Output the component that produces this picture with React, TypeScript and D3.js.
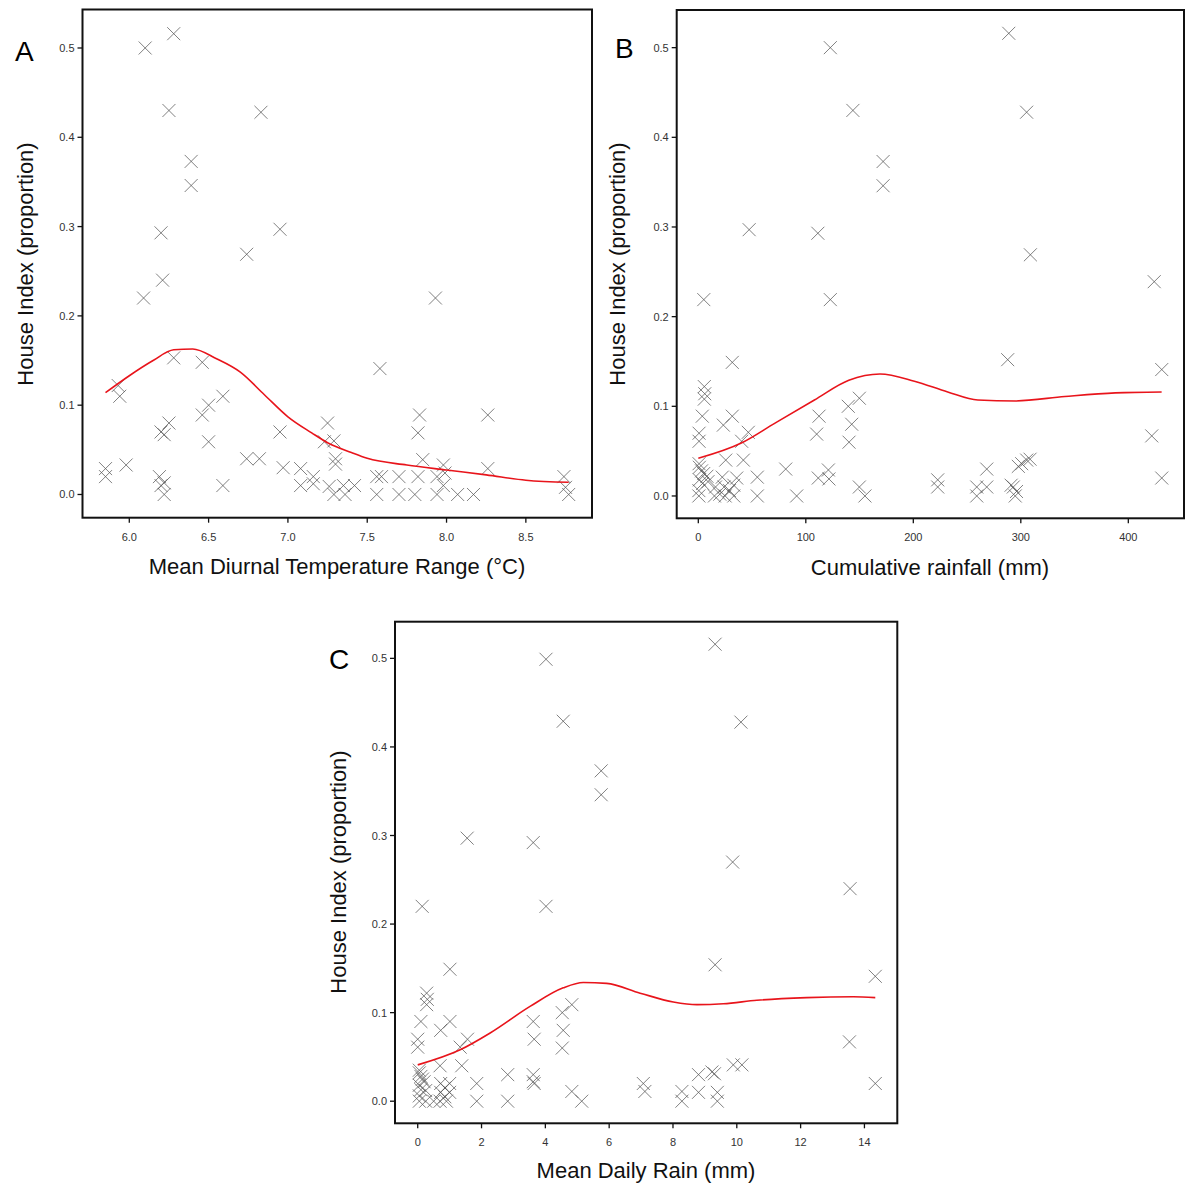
import React from "react";
import * as d3 from "d3";

const FONT = "'Liberation Sans', Arial, Helvetica, sans-serif";

const yTicks = [0, 0.1, 0.2, 0.3, 0.4, 0.5];
const dtrTicks = [6.0, 6.5, 7.0, 7.5, 8.0, 8.5];
const cumRainTicks = [0, 100, 200, 300, 400];
const dailyRainTicks = [0, 2, 4, 6, 8, 10, 12, 14];

const yLabel = "House Index (proportion)";
const xLabelA = "Mean Diurnal Temperature Range (°C)";
const xLabelB = "Cumulative rainfall (mm)";
const xLabelC = "Mean Daily Rain (mm)";

// Panel A: [mean diurnal temperature range, house index]
const pointsA: [number, number][] = [
  [6.10, 0.500], [6.28, 0.516], [6.25, 0.430], [6.83, 0.428], [6.39, 0.373], [6.39, 0.346],
  [6.20, 0.293], [6.95, 0.297], [6.74, 0.269], [6.21, 0.240], [6.09, 0.220], [7.93, 0.220],
  [7.58, 0.141], [6.28, 0.153], [6.46, 0.148], [5.93, 0.122], [5.94, 0.110], [6.59, 0.110],
  [6.50, 0.100], [6.46, 0.089], [6.25, 0.080], [6.20, 0.070], [6.22, 0.067], [6.50, 0.059],
  [6.95, 0.070], [7.25, 0.080], [7.23, 0.059], [7.29, 0.060], [7.83, 0.089], [8.26, 0.089],
  [7.82, 0.069], [6.74, 0.040], [6.82, 0.040], [7.85, 0.039], [7.30, 0.040], [7.30, 0.034],
  [7.98, 0.033], [5.85, 0.029], [5.85, 0.020], [5.98, 0.033], [6.97, 0.030], [7.08, 0.029],
  [8.26, 0.029], [6.19, 0.020], [7.16, 0.020], [7.56, 0.020], [7.59, 0.020], [7.70, 0.020],
  [7.82, 0.020], [7.94, 0.020], [7.99, 0.024], [8.74, 0.020], [6.20, 0.010], [6.22, 0.013],
  [6.59, 0.010], [7.08, 0.010], [7.16, 0.012], [7.26, 0.009], [7.35, 0.010], [7.42, 0.010],
  [7.98, 0.010], [8.75, 0.008], [6.22, 0.000], [7.29, 0.000], [7.36, 0.000], [7.56, 0.000],
  [7.70, 0.000], [7.80, 0.000], [7.94, 0.000], [8.07, 0.000], [8.17, 0.000], [8.77, 0.000],
];

// Panel B: [cumulative rainfall, house index]
const pointsB: [number, number][] = [
  [288.8, 0.516], [122.8, 0.500], [143.8, 0.430], [305.4, 0.428], [171.9, 0.373], [171.9, 0.346],
  [47.3, 0.297], [111.2, 0.293], [308.9, 0.269], [424.1, 0.239], [5.1, 0.219], [122.8, 0.219],
  [287.8, 0.152], [431.1, 0.141], [421.8, 0.067], [31.6, 0.149], [5.6, 0.122], [6.0, 0.114],
  [5.6, 0.108], [3.7, 0.089], [31.6, 0.089], [23.3, 0.079], [46.5, 0.071], [40.3, 0.061],
  [0.7, 0.070], [0.7, 0.061], [112.3, 0.089], [110.1, 0.069], [139.5, 0.100], [149.8, 0.109],
  [142.7, 0.080], [140.2, 0.060], [25.5, 0.040], [41.9, 0.040], [0.7, 0.036], [1.0, 0.032],
  [3.0, 0.028], [5.0, 0.025], [8.0, 0.022], [1.0, 0.018], [4.0, 0.014], [9.0, 0.016],
  [0.5, 0.006], [0.5, 0.000], [22.3, 0.021], [35.7, 0.020], [54.9, 0.021], [81.3, 0.030],
  [111.6, 0.020], [121.0, 0.029], [121.5, 0.019], [149.8, 0.010], [155.0, 0.000], [54.9, 0.000],
  [91.5, 0.000], [16.0, 0.010], [24.0, 0.010], [33.0, 0.012], [15.0, 0.000], [20.0, 0.002],
  [25.0, 0.000], [33.0, 0.000], [29.0, 0.006], [222.7, 0.018], [222.7, 0.010], [268.3, 0.030],
  [259.0, 0.010], [268.3, 0.010], [259.0, 0.000], [293.0, 0.010], [296.0, 0.005], [291.0, 0.012],
  [294.8, 0.000], [297.7, 0.033], [300.8, 0.036], [305.5, 0.040], [308.6, 0.041], [431.1, 0.020],
];

// Panel C: [mean daily rain, house index]
const pointsC: [number, number][] = [
  [9.32, 0.516], [4.02, 0.499], [4.56, 0.429], [10.13, 0.428], [5.75, 0.373], [5.75, 0.346],
  [1.55, 0.297], [3.62, 0.292], [9.87, 0.270], [13.55, 0.240], [0.14, 0.220], [4.02, 0.220],
  [9.32, 0.154], [14.34, 0.141], [13.53, 0.067], [1.01, 0.149], [0.28, 0.122], [0.30, 0.115],
  [0.28, 0.109], [0.10, 0.090], [1.01, 0.090], [0.72, 0.080], [1.56, 0.070], [1.33, 0.061],
  [0.00, 0.070], [0.00, 0.061], [3.62, 0.090], [3.65, 0.070], [4.53, 0.100], [4.83, 0.109],
  [4.56, 0.080], [4.53, 0.060], [0.70, 0.040], [1.38, 0.040], [0.05, 0.035], [0.05, 0.032],
  [0.10, 0.028], [0.15, 0.025], [0.20, 0.022], [0.05, 0.018], [0.10, 0.013], [0.25, 0.012],
  [0.05, 0.006], [0.05, 0.000], [2.82, 0.030], [3.62, 0.030], [3.62, 0.022], [3.65, 0.020],
  [4.83, 0.011], [5.14, 0.000], [1.85, 0.020], [1.85, 0.000], [2.82, 0.000], [0.50, 0.000],
  [0.70, 0.000], [0.90, 0.000], [0.25, 0.000], [0.72, 0.020], [0.85, 0.015], [1.00, 0.020],
  [0.72, 0.010], [0.85, 0.005], [1.00, 0.010], [7.07, 0.020], [7.12, 0.011], [9.89, 0.041],
  [10.16, 0.041], [8.80, 0.030], [9.22, 0.033], [9.30, 0.031], [8.28, 0.011], [8.28, 0.000],
  [8.80, 0.010], [9.39, 0.010], [9.39, 0.000], [14.34, 0.020],
];

// Smoothed fits (red lines)
const fitA: [number, number][] = [
  [5.85, 0.114], [6.0, 0.133], [6.15, 0.150], [6.28, 0.162], [6.40, 0.163], [6.55, 0.152],
  [6.70, 0.137], [6.85, 0.112], [7.0, 0.087], [7.15, 0.069], [7.25, 0.058], [7.40, 0.047],
  [7.50, 0.0405], [7.75, 0.033], [8.0, 0.0274], [8.25, 0.022], [8.5, 0.016], [8.77, 0.0137],
];
const fitB: [number, number][] = [
  [0, 0.042], [40, 0.059], [71, 0.081], [108, 0.107], [140, 0.129], [169, 0.136], [201, 0.128],
  [232, 0.116], [260, 0.107], [295, 0.106], [341, 0.111], [388, 0.115], [431, 0.116],
];
const fitC: [number, number][] = [
  [0, 0.041], [1.33, 0.058], [2.27, 0.077], [3.52, 0.107], [4.56, 0.128], [5.19, 0.134],
  [5.92, 0.133], [6.97, 0.122], [8.01, 0.112], [8.75, 0.109], [9.58, 0.110], [10.63, 0.114],
  [12.19, 0.117], [13.65, 0.118], [14.34, 0.117],
];

type PanelProps = {
  points: [number, number][];
  fit: [number, number][];
  box: { left: number; right: number; top: number; bottom: number };
  xDomain: [number, number];
  yDomain: [number, number];
  xTicks: number[];
  xFormat: (v: number) => string;
  xLabel: string;
  xLabelPos: [number, number];
  yLabelPos: [number, number];
  letter: string;
  letterPos: [number, number];
};

function Panel(p: PanelProps) {
  const x = d3.scaleLinear().domain(p.xDomain).range([p.box.left, p.box.right]);
  const y = d3.scaleLinear().domain(p.yDomain).range([p.box.bottom, p.box.top]);
  const line = d3
    .line<[number, number]>()
    .x((d) => x(d[0]))
    .y((d) => y(d[1]))
    .curve(d3.curveMonotoneX);
  const yFmt = d3.format(".1f");
  const s = 6.5;
  return (
    <g>
      {p.points.map((d, i) => {
        const cx = x(d[0]);
        const cy = y(d[1]);
        return (
          <path
            key={i}
            d={`M${cx - s},${cy - s}L${cx + s},${cy + s}M${cx - s},${cy + s}L${cx + s},${cy - s}`}
            stroke="#555"
            strokeOpacity={0.75}
            strokeWidth={1}
            fill="none"
          />
        );
      })}
      <path d={line(p.fit) || ""} fill="none" stroke="#e8141b" strokeWidth={1.6} />
      <rect
        x={p.box.left}
        y={p.box.top}
        width={p.box.right - p.box.left}
        height={p.box.bottom - p.box.top}
        fill="none"
        stroke="#111"
        strokeWidth={2}
      />
      {yTicks.map((t) => (
        <g key={"y" + t}>
          <line x1={p.box.left - 5} x2={p.box.left} y1={y(t)} y2={y(t)} stroke="#111" strokeWidth={1.3} />
          <text
            x={p.box.left - 8}
            y={y(t)}
            textAnchor="end"
            dominantBaseline="central"
            fontSize={11}
            fontFamily={FONT}
            fill="#333"
          >
            {yFmt(t)}
          </text>
        </g>
      ))}
      {p.xTicks.map((t) => (
        <g key={"x" + t}>
          <line x1={x(t)} x2={x(t)} y1={p.box.bottom} y2={p.box.bottom + 5} stroke="#111" strokeWidth={1.3} />
          <text
            x={x(t)}
            y={p.box.bottom + 23}
            textAnchor="middle"
            fontSize={11}
            fontFamily={FONT}
            fill="#333"
          >
            {p.xFormat(t)}
          </text>
        </g>
      ))}
      <text
        x={p.xLabelPos[0]}
        y={p.xLabelPos[1]}
        textAnchor="middle"
        fontSize={22}
        fontFamily={FONT}
        fill="#111"
      >
        {p.xLabel}
      </text>
      <text
        transform={`translate(${p.yLabelPos[0]},${p.yLabelPos[1]}) rotate(-90)`}
        textAnchor="middle"
        dominantBaseline="central"
        fontSize={22}
        fontFamily={FONT}
        fill="#111"
      >
        {yLabel}
      </text>
      <text x={p.letterPos[0]} y={p.letterPos[1]} fontSize={28} fontFamily={FONT} fill="#000">
        {p.letter}
      </text>
    </g>
  );
}

export default function App() {
  return (
    <div style={{ position: "absolute", left: 0, top: 0 }}>
      <svg width={1189} height={1183} style={{ display: "block", background: "#fff" }}>
        <Panel
          points={pointsA}
          fit={fitA}
          box={{ left: 82.5, right: 592, top: 9.5, bottom: 517.7 }}
          xDomain={[5.705, 8.917]}
          yDomain={[-0.026, 0.5431]}
          xTicks={dtrTicks}
          xFormat={d3.format(".1f")}
          xLabel={xLabelA}
          xLabelPos={[337, 574]}
          yLabelPos={[25, 264]}
          letter="A"
          letterPos={[15, 61]}
        />
        <Panel
          points={pointsB}
          fit={fitB}
          box={{ left: 676.7, right: 1184, top: 10, bottom: 518.3 }}
          xDomain={[-20.1, 451.8]}
          yDomain={[-0.0249, 0.542]}
          xTicks={cumRainTicks}
          xFormat={d3.format("d")}
          xLabel={xLabelB}
          xLabelPos={[930, 575]}
          yLabelPos={[617, 264]}
          letter="B"
          letterPos={[615, 58]}
        />
        <Panel
          points={pointsC}
          fit={fitC}
          box={{ left: 395, right: 897.3, top: 621.7, bottom: 1123.3 }}
          xDomain={[-0.712, 15.03]}
          yDomain={[-0.02495, 0.5414]}
          xTicks={dailyRainTicks}
          xFormat={d3.format("d")}
          xLabel={xLabelC}
          xLabelPos={[646, 1178]}
          yLabelPos={[338, 872]}
          letter="C"
          letterPos={[329, 669]}
        />
      </svg>
    </div>
  );
}
